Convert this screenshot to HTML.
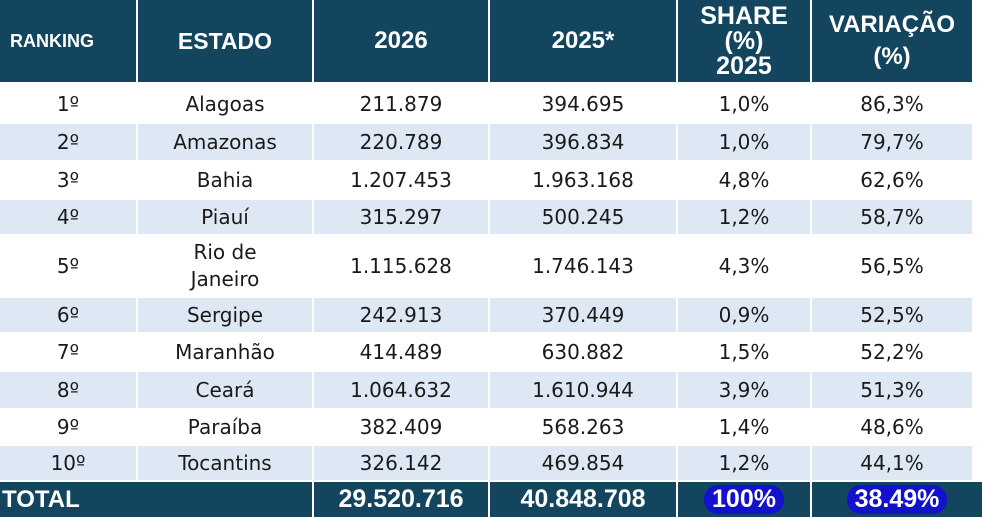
<!DOCTYPE html>
<html><head><meta charset="utf-8"><style>
body{margin:0;width:982px;height:517px;background:#fff;position:relative;overflow:hidden;font-family:"DejaVu Sans","Liberation Sans",sans-serif;}
.c{position:absolute;display:flex;align-items:center;justify-content:center;text-align:center;box-sizing:border-box;}
.h{background:#13455f;color:#fff;font-family:"Liberation Sans",sans-serif;font-weight:bold;}
.b{color:#1a1a1a;font-size:20px;line-height:27px;}
.alt{background:#dde8f4;}
.t{background:#13455f;color:#fff;font-family:"Liberation Sans",sans-serif;font-weight:bold;font-size:25px;}
.hl{background:#1212cc;border-radius:14px;padding:0 8px;}
</style></head><body>
<div id="tbl"></div>
<script>
const cols=[[0,136],[138,312],[314,488],[490,676],[678,810],[812,972]];
const headers=["RANKING","ESTADO","2026","2025*","SHARE<br>(%)<br>2025","VARIAÇÃO<br>(%)"];
const headerNames=["header-ranking","header-estado","header-2026","header-2025","header-share","header-variacao"];
const headerSizes=[18,23,24,24,25,24];
const ranks=["1º","2º","3º","4º","5º","6º","7º","8º","9º","10º"];
const states=["Alagoas","Amazonas","Bahia","Piauí","Rio de<br>Janeiro","Sergipe","Maranhão","Ceará","Paraíba","Tocantins"];
const v2026=["211.879","220.789","1.207.453","315.297","1.115.628","242.913","414.489","1.064.632","382.409","326.142"];
const v2025=["394.695","396.834","1.963.168","500.245","1.746.143","370.449","630.882","1.610.944","568.263","469.854"];
const share=["1,0%","1,0%","4,8%","1,2%","4,3%","0,9%","1,5%","3,9%","1,4%","1,2%"];
const varia=["86,3%","79,7%","62,6%","58,7%","56,5%","52,5%","52,2%","51,3%","48,6%","44,1%"];
const rowY=[[86,122],[124,160],[162,198],[200,234],[236,296],[298,332],[334,370],[372,408],[410,444],[446,480]];
const root=document.getElementById('tbl');
function cell(x0,x1,y0,y1,cls,html,name){
  const d=document.createElement('div');
  d.className='c '+cls;
  d.style.left=x0+'px';d.style.width=(x1-x0)+'px';d.style.top=y0+'px';d.style.height=(y1-y0)+'px';
  d.innerHTML=html;
  
  
  root.appendChild(d);return d;
}
headers.forEach((h,i)=>{
  const d=cell(cols[i][0],cols[i][1],0,82,'h',h,headerNames[i]);
  d.style.fontSize=headerSizes[i]+'px';d.style.lineHeight=(i===4?'25px':(i===5?'32px':'24px'));
  if(i===0)d.style.justifyContent='flex-start',d.style.paddingLeft='10px';
});
ranks.forEach((r,k)=>{
  const vals=[r,states[k],v2026[k],v2025[k],share[k],varia[k]];
  const nm=['rank','state','value-2026','value-2025','share','variation'];
  vals.forEach((v,i)=>{
    cell(cols[i][0],cols[i][1],rowY[k][0],rowY[k][1],'b'+(k%2?' alt':''),v,nm[i]+'-row-'+(k+1));
  });
});
const tc=[[0,312],[314,488],[490,676],[678,810],[812,982]];
const totals=["TOTAL","29.520.716","40.848.708","<span class='hl'>100%</span>","<span class='hl'>38.49%</span>"];
const tn=["total-label","total-2026","total-2025","total-share","total-variation"];
totals.forEach((t,i)=>{
  const d=cell(tc[i][0],tc[i][1],482,517,'t',t,tn[i]);
  if(i===0){d.style.justifyContent='flex-start';d.style.paddingLeft='2px';d.style.fontSize='24px';}
});
</script>
</body></html>
